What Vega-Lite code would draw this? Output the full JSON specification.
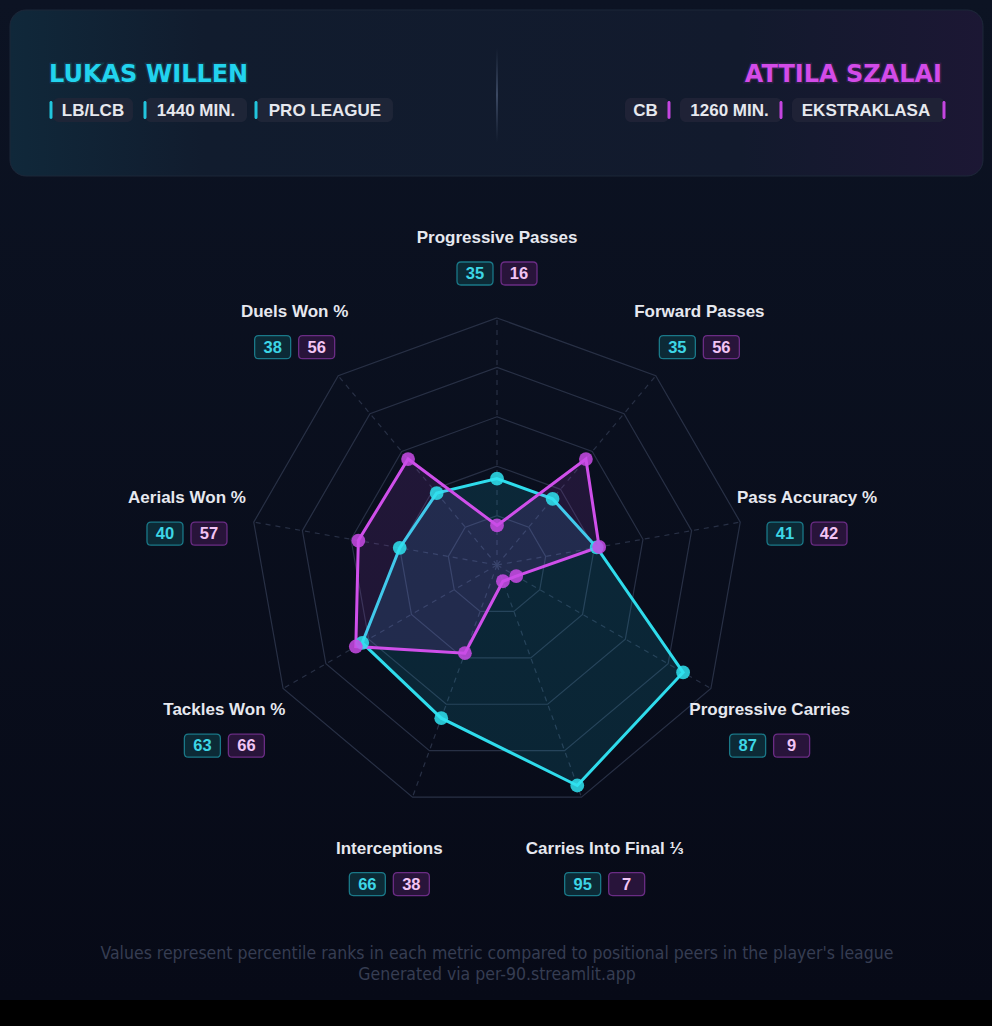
{
"$schema": "https://vega.github.io/schema/vega-lite/v6.json",
"width": 992, "height": 1026,
"autosize": {"type": "fit", "contains": "padding"},
"padding": 0,
"background": "#0a0f1f",
"config": {"view": {"stroke": null}, "text": {"font": "Liberation Sans"}},
"data": {"values": [{}]},
"datasets": {
  "metrics": [
    {"metric": "Progressive Passes", "i": 0, "willen": 35, "szalai": 16},
    {"metric": "Forward Passes", "i": 1, "willen": 35, "szalai": 56},
    {"metric": "Pass Accuracy %", "i": 2, "willen": 41, "szalai": 42},
    {"metric": "Progressive Carries", "i": 3, "willen": 87, "szalai": 9},
    {"metric": "Carries Into Final ⅓", "i": 4, "willen": 95, "szalai": 7},
    {"metric": "Interceptions", "i": 5, "willen": 66, "szalai": 38},
    {"metric": "Tackles Won %", "i": 6, "willen": 63, "szalai": 66},
    {"metric": "Aerials Won %", "i": 7, "willen": 40, "szalai": 57},
    {"metric": "Duels Won %", "i": 8, "willen": 38, "szalai": 56}
  ],
  "rings": [
    {"level": 20, "spoke": [0,1,2,3,4,5,6,7,8]},
    {"level": 40, "spoke": [0,1,2,3,4,5,6,7,8]},
    {"level": 60, "spoke": [0,1,2,3,4,5,6,7,8]},
    {"level": 80, "spoke": [0,1,2,3,4,5,6,7,8]},
    {"level": 100, "spoke": [0,1,2,3,4,5,6,7,8]}
  ]
},
"layer": [
  {"mark": {"type": "rect", "fill": {"gradient": "linear", "x1": 0, "y1": 0, "x2": 0, "y2": 1, "stops": [{"offset": 0, "color": "#0c1323"}, {"offset": 1, "color": "#070a17"}]}},
   "encoding": {"x": {"datum": -201.2146, "type": "quantitative", "scale": {"domain": [-201.2146, 200.4049], "nice": false, "zero": false}, "axis": null}, "x2": {"datum": 200.4049},
                "y": {"datum": 228.7449, "type": "quantitative", "scale": {"domain": [-186.6397, 228.7449], "nice": false, "zero": false}, "axis": null}, "y2": {"datum": -176.11}}},
  {"mark": {"type": "rect", "fill": "#000000"},
   "encoding": {"x": {"datum": -201.2146, "type": "quantitative", "scale": {"domain": [-201.2146, 200.4049], "nice": false, "zero": false}, "axis": null}, "x2": {"datum": 200.4049},
                "y": {"datum": -176.11, "type": "quantitative", "scale": {"domain": [-186.6397, 228.7449], "nice": false, "zero": false}, "axis": null}, "y2": {"datum": -186.6397}}},
  {"mark": {"type": "rect", "cornerRadius": 16, "stroke": "#1d2739", "strokeWidth": 1, "fill": {"gradient": "linear", "x1": 0, "y1": 0, "x2": 1, "y2": 0, "stops": [{"offset": 0, "color": "#10283a"}, {"offset": 0.2, "color": "#111c2e"}, {"offset": 0.75, "color": "#121a2d"}, {"offset": 1, "color": "#1c1734"}]}},
   "encoding": {"x": {"datum": -197.17, "type": "quantitative", "scale": {"domain": [-201.2146, 200.4049], "nice": false, "zero": false}, "axis": null}, "x2": {"datum": 196.76},
                "y": {"datum": 224.70, "type": "quantitative", "scale": {"domain": [-186.6397, 228.7449], "nice": false, "zero": false}, "axis": null}, "y2": {"datum": 157.49}}},
  {"mark": {"type": "rect", "fill": {"gradient": "linear", "x1": 0, "y1": 0, "x2": 0, "y2": 1, "stops": [{"offset": 0, "color": "rgba(70,85,110,0)"}, {"offset": 0.5, "color": "rgba(80,95,125,0.9)"}, {"offset": 1, "color": "rgba(70,85,110,0)"}]}},
   "encoding": {"x": {"datum": -0.3, "type": "quantitative", "scale": {"domain": [-201.2146, 200.4049], "nice": false, "zero": false}, "axis": null}, "x2": {"datum": 0.3},
                "y": {"datum": 209.31, "type": "quantitative", "scale": {"domain": [-186.6397, 228.7449], "nice": false, "zero": false}, "axis": null}, "y2": {"datum": 171.26}}},
  {"mark": {"type": "text", "text": "LUKAS WILLEN", "font": "DejaVu Sans", "fontWeight": "bold", "fontSize": 24, "fill": "#22d3ee", "align": "left", "baseline": "middle", "stroke": "#22d3ee", "strokeOpacity": 0.15, "strokeWidth": 3},
   "encoding": {"x": {"datum": -181.38, "type": "quantitative", "scale": {"domain": [-201.2146, 200.4049], "nice": false, "zero": false}, "axis": null},
                "y": {"datum": 198.38, "type": "quantitative", "scale": {"domain": [-186.6397, 228.7449], "nice": false, "zero": false}, "axis": null}}},
  {"mark": {"type": "text", "text": "ATTILA SZALAI", "font": "DejaVu Sans", "fontWeight": "bold", "fontSize": 24, "fill": "#d34be8", "align": "right", "baseline": "middle", "stroke": "#d34be8", "strokeOpacity": 0.15, "strokeWidth": 3},
   "encoding": {"x": {"datum": 180.16, "type": "quantitative", "scale": {"domain": [-201.2146, 200.4049], "nice": false, "zero": false}, "axis": null},
                "y": {"datum": 198.38, "type": "quantitative", "scale": {"domain": [-186.6397, 228.7449], "nice": false, "zero": false}, "axis": null}}},

  {"mark": {"type": "rect", "fill": "#1e2537", "cornerRadius": 6},
   "encoding": {"x": {"datum": -179.76, "type": "quantitative", "scale": {"domain": [-201.2146, 200.4049], "nice": false, "zero": false}, "axis": null}, "x2": {"datum": -147.37},
                "y": {"datum": 189.07, "type": "quantitative", "scale": {"domain": [-186.6397, 228.7449], "nice": false, "zero": false}, "axis": null}, "y2": {"datum": 179.35}}},
  {"mark": {"type": "rect", "fill": "#1e2537", "cornerRadius": 6},
   "encoding": {"x": {"datum": -142.51, "type": "quantitative", "scale": {"domain": [-201.2146, 200.4049], "nice": false, "zero": false}, "axis": null}, "x2": {"datum": -101.21},
                "y": {"datum": 189.07, "type": "quantitative", "scale": {"domain": [-186.6397, 228.7449], "nice": false, "zero": false}, "axis": null}, "y2": {"datum": 179.35}}},
  {"mark": {"type": "rect", "fill": "#1e2537", "cornerRadius": 6},
   "encoding": {"x": {"datum": -97.57, "type": "quantitative", "scale": {"domain": [-201.2146, 200.4049], "nice": false, "zero": false}, "axis": null}, "x2": {"datum": -42.11},
                "y": {"datum": 189.07, "type": "quantitative", "scale": {"domain": [-186.6397, 228.7449], "nice": false, "zero": false}, "axis": null}, "y2": {"datum": 179.35}}},
  {"mark": {"type": "rect", "fill": "#1f2236", "cornerRadius": 6},
   "encoding": {"x": {"datum": 51.82, "type": "quantitative", "scale": {"domain": [-201.2146, 200.4049], "nice": false, "zero": false}, "axis": null}, "x2": {"datum": 69.64},
                "y": {"datum": 189.07, "type": "quantitative", "scale": {"domain": [-186.6397, 228.7449], "nice": false, "zero": false}, "axis": null}, "y2": {"datum": 179.35}}},
  {"mark": {"type": "rect", "fill": "#1f2236", "cornerRadius": 6},
   "encoding": {"x": {"datum": 74.09, "type": "quantitative", "scale": {"domain": [-201.2146, 200.4049], "nice": false, "zero": false}, "axis": null}, "x2": {"datum": 115.38},
                "y": {"datum": 189.07, "type": "quantitative", "scale": {"domain": [-186.6397, 228.7449], "nice": false, "zero": false}, "axis": null}, "y2": {"datum": 179.35}}},
  {"mark": {"type": "rect", "fill": "#1f2236", "cornerRadius": 6},
   "encoding": {"x": {"datum": 119.43, "type": "quantitative", "scale": {"domain": [-201.2146, 200.4049], "nice": false, "zero": false}, "axis": null}, "x2": {"datum": 181.38},
                "y": {"datum": 189.07, "type": "quantitative", "scale": {"domain": [-186.6397, 228.7449], "nice": false, "zero": false}, "axis": null}, "y2": {"datum": 179.35}}},

  {"mark": {"type": "rect", "fill": "#22c5dd", "cornerRadius": 1.5},
   "encoding": {"x": {"datum": -181.17, "type": "quantitative", "scale": {"domain": [-201.2146, 200.4049], "nice": false, "zero": false}, "axis": null}, "x2": {"datum": -179.96},
                "y": {"datum": 187.85, "type": "quantitative", "scale": {"domain": [-186.6397, 228.7449], "nice": false, "zero": false}, "axis": null}, "y2": {"datum": 180.57}}},
  {"mark": {"type": "rect", "fill": "#22c5dd", "cornerRadius": 1.5},
   "encoding": {"x": {"datum": -143.12, "type": "quantitative", "scale": {"domain": [-201.2146, 200.4049], "nice": false, "zero": false}, "axis": null}, "x2": {"datum": -141.90},
                "y": {"datum": 187.85, "type": "quantitative", "scale": {"domain": [-186.6397, 228.7449], "nice": false, "zero": false}, "axis": null}, "y2": {"datum": 180.57}}},
  {"mark": {"type": "rect", "fill": "#22c5dd", "cornerRadius": 1.5},
   "encoding": {"x": {"datum": -98.18, "type": "quantitative", "scale": {"domain": [-201.2146, 200.4049], "nice": false, "zero": false}, "axis": null}, "x2": {"datum": -96.96},
                "y": {"datum": 187.85, "type": "quantitative", "scale": {"domain": [-186.6397, 228.7449], "nice": false, "zero": false}, "axis": null}, "y2": {"datum": 180.57}}},
  {"mark": {"type": "rect", "fill": "#c445e0", "cornerRadius": 1.5},
   "encoding": {"x": {"datum": 69.03, "type": "quantitative", "scale": {"domain": [-201.2146, 200.4049], "nice": false, "zero": false}, "axis": null}, "x2": {"datum": 70.24},
                "y": {"datum": 187.85, "type": "quantitative", "scale": {"domain": [-186.6397, 228.7449], "nice": false, "zero": false}, "axis": null}, "y2": {"datum": 180.57}}},
  {"mark": {"type": "rect", "fill": "#c445e0", "cornerRadius": 1.5},
   "encoding": {"x": {"datum": 114.37, "type": "quantitative", "scale": {"domain": [-201.2146, 200.4049], "nice": false, "zero": false}, "axis": null}, "x2": {"datum": 115.59},
                "y": {"datum": 187.85, "type": "quantitative", "scale": {"domain": [-186.6397, 228.7449], "nice": false, "zero": false}, "axis": null}, "y2": {"datum": 180.57}}},
  {"mark": {"type": "rect", "fill": "#c445e0", "cornerRadius": 1.5},
   "encoding": {"x": {"datum": 180.36, "type": "quantitative", "scale": {"domain": [-201.2146, 200.4049], "nice": false, "zero": false}, "axis": null}, "x2": {"datum": 181.58},
                "y": {"datum": 187.85, "type": "quantitative", "scale": {"domain": [-186.6397, 228.7449], "nice": false, "zero": false}, "axis": null}, "y2": {"datum": 180.57}}},

  {"mark": {"type": "text", "text": "LB/LCB", "fontWeight": "bold", "fontSize": 17, "fill": "#e6e8ee", "align": "center", "baseline": "middle"},
   "encoding": {"x": {"datum": -163.56, "type": "quantitative", "scale": {"domain": [-201.2146, 200.4049], "nice": false, "zero": false}, "axis": null},
                "y": {"datum": 184.0, "type": "quantitative", "scale": {"domain": [-186.6397, 228.7449], "nice": false, "zero": false}, "axis": null}}},
  {"mark": {"type": "text", "text": "1440 MIN.", "fontWeight": "bold", "fontSize": 17, "fill": "#e6e8ee", "align": "center", "baseline": "middle"},
   "encoding": {"x": {"datum": -121.86, "type": "quantitative", "scale": {"domain": [-201.2146, 200.4049], "nice": false, "zero": false}, "axis": null},
                "y": {"datum": 184.0, "type": "quantitative", "scale": {"domain": [-186.6397, 228.7449], "nice": false, "zero": false}, "axis": null}}},
  {"mark": {"type": "text", "text": "PRO LEAGUE", "fontWeight": "bold", "fontSize": 17, "fill": "#e6e8ee", "align": "center", "baseline": "middle"},
   "encoding": {"x": {"datum": -69.64, "type": "quantitative", "scale": {"domain": [-201.2146, 200.4049], "nice": false, "zero": false}, "axis": null},
                "y": {"datum": 184.0, "type": "quantitative", "scale": {"domain": [-186.6397, 228.7449], "nice": false, "zero": false}, "axis": null}}},
  {"mark": {"type": "text", "text": "CB", "fontWeight": "bold", "fontSize": 17, "fill": "#e6e8ee", "align": "center", "baseline": "middle"},
   "encoding": {"x": {"datum": 60.12, "type": "quantitative", "scale": {"domain": [-201.2146, 200.4049], "nice": false, "zero": false}, "axis": null},
                "y": {"datum": 184.0, "type": "quantitative", "scale": {"domain": [-186.6397, 228.7449], "nice": false, "zero": false}, "axis": null}}},
  {"mark": {"type": "text", "text": "1260 MIN.", "fontWeight": "bold", "fontSize": 17, "fill": "#e6e8ee", "align": "center", "baseline": "middle"},
   "encoding": {"x": {"datum": 94.13, "type": "quantitative", "scale": {"domain": [-201.2146, 200.4049], "nice": false, "zero": false}, "axis": null},
                "y": {"datum": 184.0, "type": "quantitative", "scale": {"domain": [-186.6397, 228.7449], "nice": false, "zero": false}, "axis": null}}},
  {"mark": {"type": "text", "text": "EKSTRAKLASA", "fontWeight": "bold", "fontSize": 17, "fill": "#e6e8ee", "align": "center", "baseline": "middle"},
   "encoding": {"x": {"datum": 149.39, "type": "quantitative", "scale": {"domain": [-201.2146, 200.4049], "nice": false, "zero": false}, "axis": null},
                "y": {"datum": 184.0, "type": "quantitative", "scale": {"domain": [-186.6397, 228.7449], "nice": false, "zero": false}, "axis": null}}},

  {"mark": {"type": "text", "text": "Values represent percentile ranks in each metric compared to positional peers in the player's league", "font": "Liberation Sans Narrow, DejaVu Sans Condensed, sans-serif", "fontSize": 17.5, "fill": "#363d52", "align": "center", "baseline": "middle"},
   "encoding": {"x": {"datum": 0, "type": "quantitative", "scale": {"domain": [-201.2146, 200.4049], "nice": false, "zero": false}, "axis": null},
                "y": {"datum": -157.49, "type": "quantitative", "scale": {"domain": [-186.6397, 228.7449], "nice": false, "zero": false}, "axis": null}}},
  {"mark": {"type": "text", "text": "Generated via per-90.streamlit.app", "font": "Liberation Sans Narrow, DejaVu Sans Condensed, sans-serif", "fontSize": 17.5, "fill": "#363d52", "align": "center", "baseline": "middle"},
   "encoding": {"x": {"datum": 0, "type": "quantitative", "scale": {"domain": [-201.2146, 200.4049], "nice": false, "zero": false}, "axis": null},
                "y": {"datum": -165.99, "type": "quantitative", "scale": {"domain": [-186.6397, 228.7449], "nice": false, "zero": false}, "axis": null}}},

  {"data": {"name": "rings"},
   "transform": [{"flatten": ["spoke"]}, {"calculate": "datum.spoke*2*PI/9", "as": "a"}, {"calculate": "datum.level*sin(datum.a)", "as": "gx"}, {"calculate": "datum.level*cos(datum.a)", "as": "gy"}],
   "mark": {"type": "line", "interpolate": "linear-closed", "stroke": "#283045", "strokeWidth": 1.2},
   "encoding": {"x": {"field": "gx", "type": "quantitative", "scale": {"domain": [-201.2146, 200.4049], "nice": false, "zero": false}, "axis": null},
                "y": {"field": "gy", "type": "quantitative", "scale": {"domain": [-186.6397, 228.7449], "nice": false, "zero": false}, "axis": null},
                "detail": {"field": "level", "type": "nominal"}, "order": {"field": "spoke", "type": "quantitative"}}},
  {"data": {"name": "metrics"},
   "transform": [{"calculate": "datum.i*2*PI/9", "as": "a"}, {"calculate": "0", "as": "ox"}, {"calculate": "100*sin(datum.a)", "as": "ex"}, {"calculate": "100*cos(datum.a)", "as": "ey"}],
   "mark": {"type": "rule", "stroke": "#283045", "strokeWidth": 1.2, "strokeDash": [5, 5]},
   "encoding": {"x": {"field": "ox", "type": "quantitative", "scale": {"domain": [-201.2146, 200.4049], "nice": false, "zero": false}, "axis": null}, "x2": {"field": "ex"},
                "y": {"field": "ox", "type": "quantitative", "scale": {"domain": [-186.6397, 228.7449], "nice": false, "zero": false}, "axis": null}, "y2": {"field": "ey"}}},

  {"data": {"name": "metrics"},
   "transform": [{"calculate": "datum.i*2*PI/9", "as": "a"}, {"calculate": "datum.willen*sin(datum.a)", "as": "px"}, {"calculate": "datum.willen*cos(datum.a)", "as": "py"}],
   "mark": {"type": "line", "interpolate": "linear-closed", "stroke": "#2fdcec", "strokeWidth": 3, "fill": "#22d3ee", "fillOpacity": 0.13},
   "encoding": {"x": {"field": "px", "type": "quantitative", "scale": {"domain": [-201.2146, 200.4049], "nice": false, "zero": false}, "axis": null},
                "y": {"field": "py", "type": "quantitative", "scale": {"domain": [-186.6397, 228.7449], "nice": false, "zero": false}, "axis": null},
                "order": {"field": "i", "type": "quantitative"}}},
  {"data": {"name": "metrics"},
   "transform": [{"calculate": "datum.i*2*PI/9", "as": "a"}, {"calculate": "datum.szalai*sin(datum.a)", "as": "px"}, {"calculate": "datum.szalai*cos(datum.a)", "as": "py"}],
   "mark": {"type": "line", "interpolate": "linear-closed", "stroke": "#cf4fea", "strokeWidth": 3, "fill": "#c54ae6", "fillOpacity": 0.13},
   "encoding": {"x": {"field": "px", "type": "quantitative", "scale": {"domain": [-201.2146, 200.4049], "nice": false, "zero": false}, "axis": null},
                "y": {"field": "py", "type": "quantitative", "scale": {"domain": [-186.6397, 228.7449], "nice": false, "zero": false}, "axis": null},
                "order": {"field": "i", "type": "quantitative"}}},
  {"data": {"name": "metrics"},
   "transform": [{"calculate": "datum.i*2*PI/9", "as": "a"}, {"calculate": "datum.willen*sin(datum.a)", "as": "px"}, {"calculate": "datum.willen*cos(datum.a)", "as": "py"}],
   "mark": {"type": "point", "filled": true, "fill": "#2fe3f0", "opacity": 0.85, "size": 190},
   "encoding": {"x": {"field": "px", "type": "quantitative", "scale": {"domain": [-201.2146, 200.4049], "nice": false, "zero": false}, "axis": null},
                "y": {"field": "py", "type": "quantitative", "scale": {"domain": [-186.6397, 228.7449], "nice": false, "zero": false}, "axis": null}}},
  {"data": {"name": "metrics"},
   "transform": [{"calculate": "datum.i*2*PI/9", "as": "a"}, {"calculate": "datum.szalai*sin(datum.a)", "as": "px"}, {"calculate": "datum.szalai*cos(datum.a)", "as": "py"}],
   "mark": {"type": "point", "filled": true, "fill": "#c94be6", "opacity": 0.85, "size": 190},
   "encoding": {"x": {"field": "px", "type": "quantitative", "scale": {"domain": [-201.2146, 200.4049], "nice": false, "zero": false}, "axis": null},
                "y": {"field": "py", "type": "quantitative", "scale": {"domain": [-186.6397, 228.7449], "nice": false, "zero": false}, "axis": null}}},

  {"data": {"name": "metrics"},
   "transform": [{"calculate": "datum.i*2*PI/9", "as": "a"}, {"calculate": "127.45*sin(datum.a)", "as": "lx"}, {"calculate": "127.45*cos(datum.a)", "as": "ly"}],
   "mark": {"type": "text", "fontWeight": "bold", "fontSize": 17, "fill": "#e6e8ef", "align": "center", "baseline": "middle", "yOffset": -12.2},
   "encoding": {"x": {"field": "lx", "type": "quantitative", "scale": {"domain": [-201.2146, 200.4049], "nice": false, "zero": false}, "axis": null},
                "y": {"field": "ly", "type": "quantitative", "scale": {"domain": [-186.6397, 228.7449], "nice": false, "zero": false}, "axis": null},
                "text": {"field": "metric", "type": "nominal"}}},
  {"data": {"name": "metrics"},
   "transform": [{"calculate": "datum.i*2*PI/9", "as": "a"}, {"calculate": "127.45*sin(datum.a)", "as": "lx"}, {"calculate": "127.45*cos(datum.a)", "as": "ly"}],
   "mark": {"type": "point", "filled": true, "fill": "#0c2a36", "stroke": "#1a7888", "strokeWidth": 1.3, "opacity": 1, "size": 1296, "xOffset": -22, "yOffset": 23.3,
            "shape": "M-0.778,-0.639L0.778,-0.639Q1,-0.639,1,-0.417L1,0.417Q1,0.639,0.778,0.639L-0.778,0.639Q-1,0.639,-1,0.417L-1,-0.417Q-1,-0.639,-0.778,-0.639Z"},
   "encoding": {"x": {"field": "lx", "type": "quantitative", "scale": {"domain": [-201.2146, 200.4049], "nice": false, "zero": false}, "axis": null},
                "y": {"field": "ly", "type": "quantitative", "scale": {"domain": [-186.6397, 228.7449], "nice": false, "zero": false}, "axis": null}}},
  {"data": {"name": "metrics"},
   "transform": [{"calculate": "datum.i*2*PI/9", "as": "a"}, {"calculate": "127.45*sin(datum.a)", "as": "lx"}, {"calculate": "127.45*cos(datum.a)", "as": "ly"}],
   "mark": {"type": "point", "filled": true, "fill": "#28143a", "stroke": "#6a2c84", "strokeWidth": 1.3, "opacity": 1, "size": 1296, "xOffset": 22, "yOffset": 23.3,
            "shape": "M-0.778,-0.639L0.778,-0.639Q1,-0.639,1,-0.417L1,0.417Q1,0.639,0.778,0.639L-0.778,0.639Q-1,0.639,-1,0.417L-1,-0.417Q-1,-0.639,-0.778,-0.639Z"},
   "encoding": {"x": {"field": "lx", "type": "quantitative", "scale": {"domain": [-201.2146, 200.4049], "nice": false, "zero": false}, "axis": null},
                "y": {"field": "ly", "type": "quantitative", "scale": {"domain": [-186.6397, 228.7449], "nice": false, "zero": false}, "axis": null}}},
  {"data": {"name": "metrics"},
   "transform": [{"calculate": "datum.i*2*PI/9", "as": "a"}, {"calculate": "127.45*sin(datum.a)", "as": "lx"}, {"calculate": "127.45*cos(datum.a)", "as": "ly"}],
   "mark": {"type": "text", "fontWeight": "bold", "fontSize": 16.5, "fill": "#3dd6e6", "align": "center", "baseline": "middle", "xOffset": -22, "yOffset": 24},
   "encoding": {"x": {"field": "lx", "type": "quantitative", "scale": {"domain": [-201.2146, 200.4049], "nice": false, "zero": false}, "axis": null},
                "y": {"field": "ly", "type": "quantitative", "scale": {"domain": [-186.6397, 228.7449], "nice": false, "zero": false}, "axis": null},
                "text": {"field": "willen", "type": "quantitative"}}},
  {"data": {"name": "metrics"},
   "transform": [{"calculate": "datum.i*2*PI/9", "as": "a"}, {"calculate": "127.45*sin(datum.a)", "as": "lx"}, {"calculate": "127.45*cos(datum.a)", "as": "ly"}],
   "mark": {"type": "text", "fontWeight": "bold", "fontSize": 16.5, "fill": "#f2c4f4", "align": "center", "baseline": "middle", "xOffset": 22, "yOffset": 24},
   "encoding": {"x": {"field": "lx", "type": "quantitative", "scale": {"domain": [-201.2146, 200.4049], "nice": false, "zero": false}, "axis": null},
                "y": {"field": "ly", "type": "quantitative", "scale": {"domain": [-186.6397, 228.7449], "nice": false, "zero": false}, "axis": null},
                "text": {"field": "szalai", "type": "quantitative"}}}
]
}
